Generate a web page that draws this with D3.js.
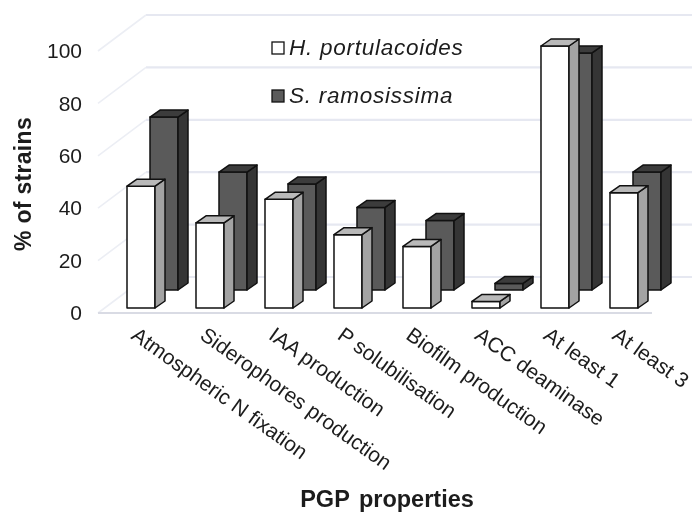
<!DOCTYPE html>
<html>
<head>
<meta charset="utf-8">
<script src="https://cdn.jsdelivr.net/npm/d3@7/dist/d3.min.js"></script>
<style>
  html, body { margin: 0; padding: 0; background: #fff; }
  svg { display: block; filter: blur(0.45px); }
  text { font-family: "Liberation Sans", Arial, sans-serif; fill: #1c1c1c; }
</style>
</head>
<body>
<div id="chart"></div>
<script>
// Data
var categories = ["Atmospheric N fixation", "Siderophores production", "IAA production",
    "P solubilisation", "Biofilm production", "ACC deaminase", "At least 1", "At least 3"];
var portulacoides = [46.5, 32.5, 41.5, 28, 23.5, 2.5, 100, 44];
var ramosissima = [66, 45, 40.5, 31.5, 26.5, 2.5, 90.5, 45];
var yTicks = [0, 20, 40, 60, 80, 100];


var width = 692,
    height = 513;

var svg = d3.select("#chart").append("svg")
    .attr("width", width)
    .attr("height", height);

// Scales (front plane of the fake 3D box)
var x = d3.scaleBand()
    .domain(categories)
    .range([127, 638])
    .paddingInner(0.594)
    .paddingOuter(0);

var y = d3.scaleLinear()
    .domain([0, 100])
    .range([313, 51]);

var labelX = d3.scalePoint()
    .domain(categories)
    .range([130, 611]);

// Depth of the wall and of each bar
var wall = { dx: 46, dy: -36 },
    barDepth = { dx: 10, dy: -7 };


// Grid on the back wall and side wall
var grid = svg.append("g")
    .attr("fill", "none")
    .attr("stroke", "#e6e8f1");

grid.selectAll(".back")
    .data(yTicks)
    .enter().append("line")
    .attr("class", "back")
    .attr("x1", 100 + wall.dx)
    .attr("x2", width)
    .attr("y1", function(d) { return y(d) + wall.dy; })
    .attr("y2", function(d) { return y(d) + wall.dy; })
    .attr("stroke-width", 2.2);

grid.selectAll(".side")
    .data(yTicks)
    .enter().append("line")
    .attr("class", "side")
    .attr("x1", 98)
    .attr("x2", 100 + wall.dx)
    .attr("y1", function(d) { return y(d); })
    .attr("y2", function(d) { return y(d) + wall.dy; })
    .attr("stroke", "#eceef4")
    .attr("stroke-width", 1.6);

svg.append("line")
    .attr("x1", 98)
    .attr("x2", 652)
    .attr("y1", y(0))
    .attr("y2", y(0))
    .attr("stroke", "#d9dbe4")
    .attr("stroke-width", 2);


// 3D bars
function drawBars(values, shiftX, shiftY, colors) {
    var bar = svg.append("g")
        .attr("stroke", "#111")
        .attr("stroke-width", 1.5)
        .attr("stroke-linejoin", "round")
        .selectAll("g")
        .data(values)
        .enter().append("g")
        .attr("transform", function(d, i) {
            return "translate(" + (x(categories[i]) + shiftX) + "," + (y(d) + shiftY) + ")";
        });

    var w = x.bandwidth();

    bar.append("rect")
        .attr("width", w)
        .attr("height", function(d) { return y(0) - y(d); })
        .attr("fill", colors.face);

    bar.append("path")
        .attr("d", function(d) {
            var h = y(0) - y(d);
            return "M" + w + ",0l" + barDepth.dx + "," + barDepth.dy + "v" + h + "l" + (-barDepth.dx) + "," + (-barDepth.dy) + "Z";
        })
        .attr("fill", colors.side);

    bar.append("path")
        .attr("d", "M0,0l" + barDepth.dx + "," + barDepth.dy + "h" + w + "l" + (-barDepth.dx) + "," + (-barDepth.dy) + "Z")
        .attr("fill", colors.top);
}

drawBars(ramosissima, 23, -23, { face: "#5a5a5a", side: "#353535", top: "#3c3c3c" });
drawBars(portulacoides, 0, -5, { face: "#ffffff", side: "#a3a3a3", top: "#b9b9b9" });


// Y axis
var yAxis = d3.axisLeft(y)
    .tickValues(yTicks)
    .tickSize(0)
    .tickPadding(0);

var yAxisGroup = svg.append("g")
    .attr("transform", "translate(82,0)")
    .call(yAxis);

yAxisGroup.select(".domain").remove();
yAxisGroup.selectAll("text")
    .style("font-family", "'Liberation Sans', Arial, sans-serif")
    .style("font-size", "21px");

svg.append("text")
    .attr("transform", "translate(31,184) rotate(-90)")
    .attr("text-anchor", "middle")
    .style("font-size", "23px")
    .style("font-weight", "bold")
    .style("letter-spacing", "0.3px")
    .text("% of strains");


// Category labels
svg.selectAll(".cat")
    .data(categories)
    .enter().append("text")
    .attr("class", "cat")
    .attr("transform", function(d) { return "translate(" + labelX(d) + ",338) rotate(35.5)"; })
    .style("font-size", "21px")
    .text(function(d) { return d; });

svg.append("text")
    .attr("x", 387)
    .attr("y", 507)
    .attr("text-anchor", "middle")
    .style("font-size", "23.5px")
    .style("font-weight", "bold")
    .style("word-spacing", "3px")
    .text("PGP properties");


// Legend
var legendNames = ["H. portulacoides", "S. ramosissima"];
var legendFill = ["#ffffff", "#5a5a5a"];
var legendY = d3.scalePoint().domain(legendNames).range([48, 96]);

var legend = svg.selectAll(".legend")
    .data(legendNames)
    .enter().append("g")
    .attr("class", "legend")
    .attr("transform", function(d) { return "translate(272," + legendY(d) + ")"; });

legend.append("rect")
    .attr("y", -6)
    .attr("width", 12)
    .attr("height", 12)
    .attr("fill", function(d, i) { return legendFill[i]; })
    .attr("stroke", "#111")
    .attr("stroke-width", 1.3);

legend.append("text")
    .attr("x", 17)
    .attr("y", 7)
    .style("font-size", "22.5px")
    .style("font-style", "italic")
    .style("letter-spacing", "0.75px")
    .text(function(d) { return d; });
</script>
</body>
</html>
